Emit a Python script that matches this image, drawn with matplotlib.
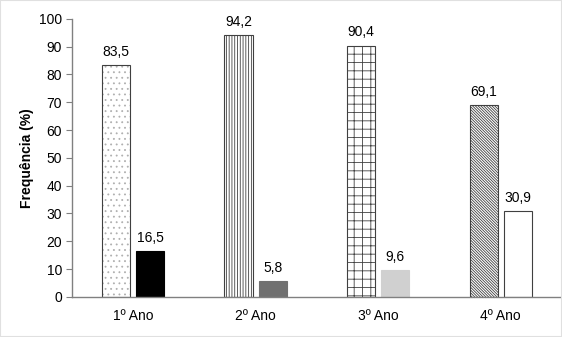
import matplotlib
matplotlib.use("Agg")
import matplotlib.pyplot as plt
import numpy as np

plt.rcParams['font.family'] = ['Liberation Sans', 'DejaVu Sans']
plt.rcParams['hatch.linewidth'] = 0.6

categories = ["1º Ano", "2º Ano", "3º Ano", "4º Ano"]
values_a = [83.5, 94.2, 90.4, 69.1]
values_b = [16.5, 5.8, 9.6, 30.9]
labels_a = ["83,5", "94,2", "90,4", "69,1"]
labels_b = ["16,5", "5,8", "9,6", "30,9"]

hatches_a = ['...', '||||||', '++', '\\' * 12]
hatch_colors = ['#b0b0b0', '#404040', '#404040', '#404040']
colors_b = ['#000000', '#707070', '#d0d0d0', '#ffffff']

fig = plt.figure(figsize=(5.62, 3.37), dpi=100)
ax = fig.add_axes([0.128, 0.119, 0.872, 0.825])

x = np.arange(len(categories))
w = 0.23
gap = 0.05
off = (w + gap) / 2

for i in range(len(categories)):
    # hatch layer, then outline on top
    ax.bar(x[i] - off, values_a[i], width=w, color='white', edgecolor=hatch_colors[i],
           hatch=hatches_a[i], linewidth=0)
    ax.bar(x[i] - off, values_a[i], width=w, fill=False, edgecolor='#404040', linewidth=0.8)
    ax.bar(x[i] + off, values_b[i], width=w, color=colors_b[i],
           edgecolor='#404040' if colors_b[i] == '#ffffff' else colors_b[i], linewidth=0.8)
    ax.text(x[i] - off, values_a[i] + 2.2, labels_a[i], ha='center', va='bottom', fontsize=10)
    ax.text(x[i] + off, values_b[i] + 2.2, labels_b[i], ha='center', va='bottom', fontsize=10)

ax.set_xlim(-0.5, 3.5)
ax.set_ylim(0, 100)
ax.set_yticks(range(0, 101, 10))
ax.set_xticks(x)
ax.set_xticklabels(categories, fontsize=10)
ax.tick_params(axis='x', length=0, pad=9)
ax.tick_params(axis='y', direction='out', length=4, color='#808080', labelsize=10, pad=3)
ax.set_ylabel("Frequência (%)", fontsize=10, fontweight='bold', labelpad=4)

for s in ['top', 'right']:
    ax.spines[s].set_visible(False)
for s in ['left', 'bottom']:
    ax.spines[s].set_color('#808080')
    ax.spines[s].set_linewidth(1)

fig.patches.append(plt.Rectangle((0, 0), 1, 1, transform=fig.transFigure,
                                 fill=False, edgecolor='#e0e0e0', linewidth=1.5))

fig.savefig("out.png", dpi=100)
